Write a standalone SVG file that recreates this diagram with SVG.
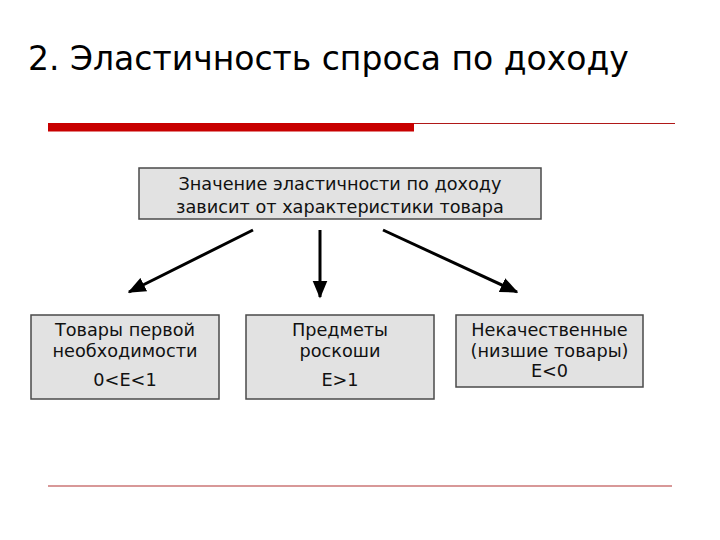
<svg xmlns="http://www.w3.org/2000/svg" width="720" height="540" viewBox="0 0 720 540">
<defs>
<style>
.box{fill:#e2e2e2;stroke:#4a4a4a;stroke-width:1.5}
.t{font-family:"DejaVu Sans",Verdana,sans-serif;font-size:17.7px;fill:#111;text-anchor:middle}
.arr{stroke:#000;stroke-width:3;fill:none;marker-end:url(#ah)}
</style>
<marker id="ah" viewBox="0 0 12 10" refX="11" refY="5" markerWidth="6" markerHeight="5.3" orient="auto" markerUnits="strokeWidth">
<path d="M0,0 L12,5 L0,10 z" fill="#000"/>
</marker>
</defs>
<rect width="720" height="540" fill="#fff"/>
<text x="28" y="70" font-family="DejaVu Sans, Verdana, sans-serif" font-size="33" fill="#000">2. Эластичность спроса по доходу</text>
<rect x="48" y="123" width="366" height="8.5" fill="#c80000"/>
<line x1="414" y1="123.5" x2="675" y2="123.5" stroke="#b01818" stroke-width="1"/>
<line x1="48" y1="486" x2="672" y2="486" stroke="#d89898" stroke-width="2"/>
<g id="top">
<rect class="box" x="139" y="168" width="402" height="51"/>
<text class="t" x="340" y="190">Значение эластичности по доходу</text>
<text class="t" x="340" y="213">зависит от характеристики товара</text>
</g>
<g id="necessities">
<rect class="box" x="31" y="315" width="188" height="84"/>
<text class="t" x="125" y="336">Товары первой</text>
<text class="t" x="125" y="357">необходимости</text>
<text class="t" x="125" y="386">0&lt;E&lt;1</text>
</g>
<g id="luxury">
<rect class="box" x="246" y="315" width="188" height="84"/>
<text class="t" x="340" y="336">Предметы</text>
<text class="t" x="340" y="357">роскоши</text>
<text class="t" x="340" y="386">E&gt;1</text>
</g>
<g id="inferior">
<rect class="box" x="456" y="315" width="187" height="72"/>
<text class="t" x="549.5" y="336">Некачественные</text>
<text class="t" x="549.5" y="357">(низшие товары)</text>
<text class="t" x="549.5" y="377">E&lt;0</text>
</g>
<g id="connectors">
<line class="arr" x1="253" y1="230" x2="129" y2="292"/>
<line class="arr" x1="320" y1="230" x2="320" y2="297"/>
<line class="arr" x1="383" y1="230" x2="517" y2="292"/>
</g>
</svg>
